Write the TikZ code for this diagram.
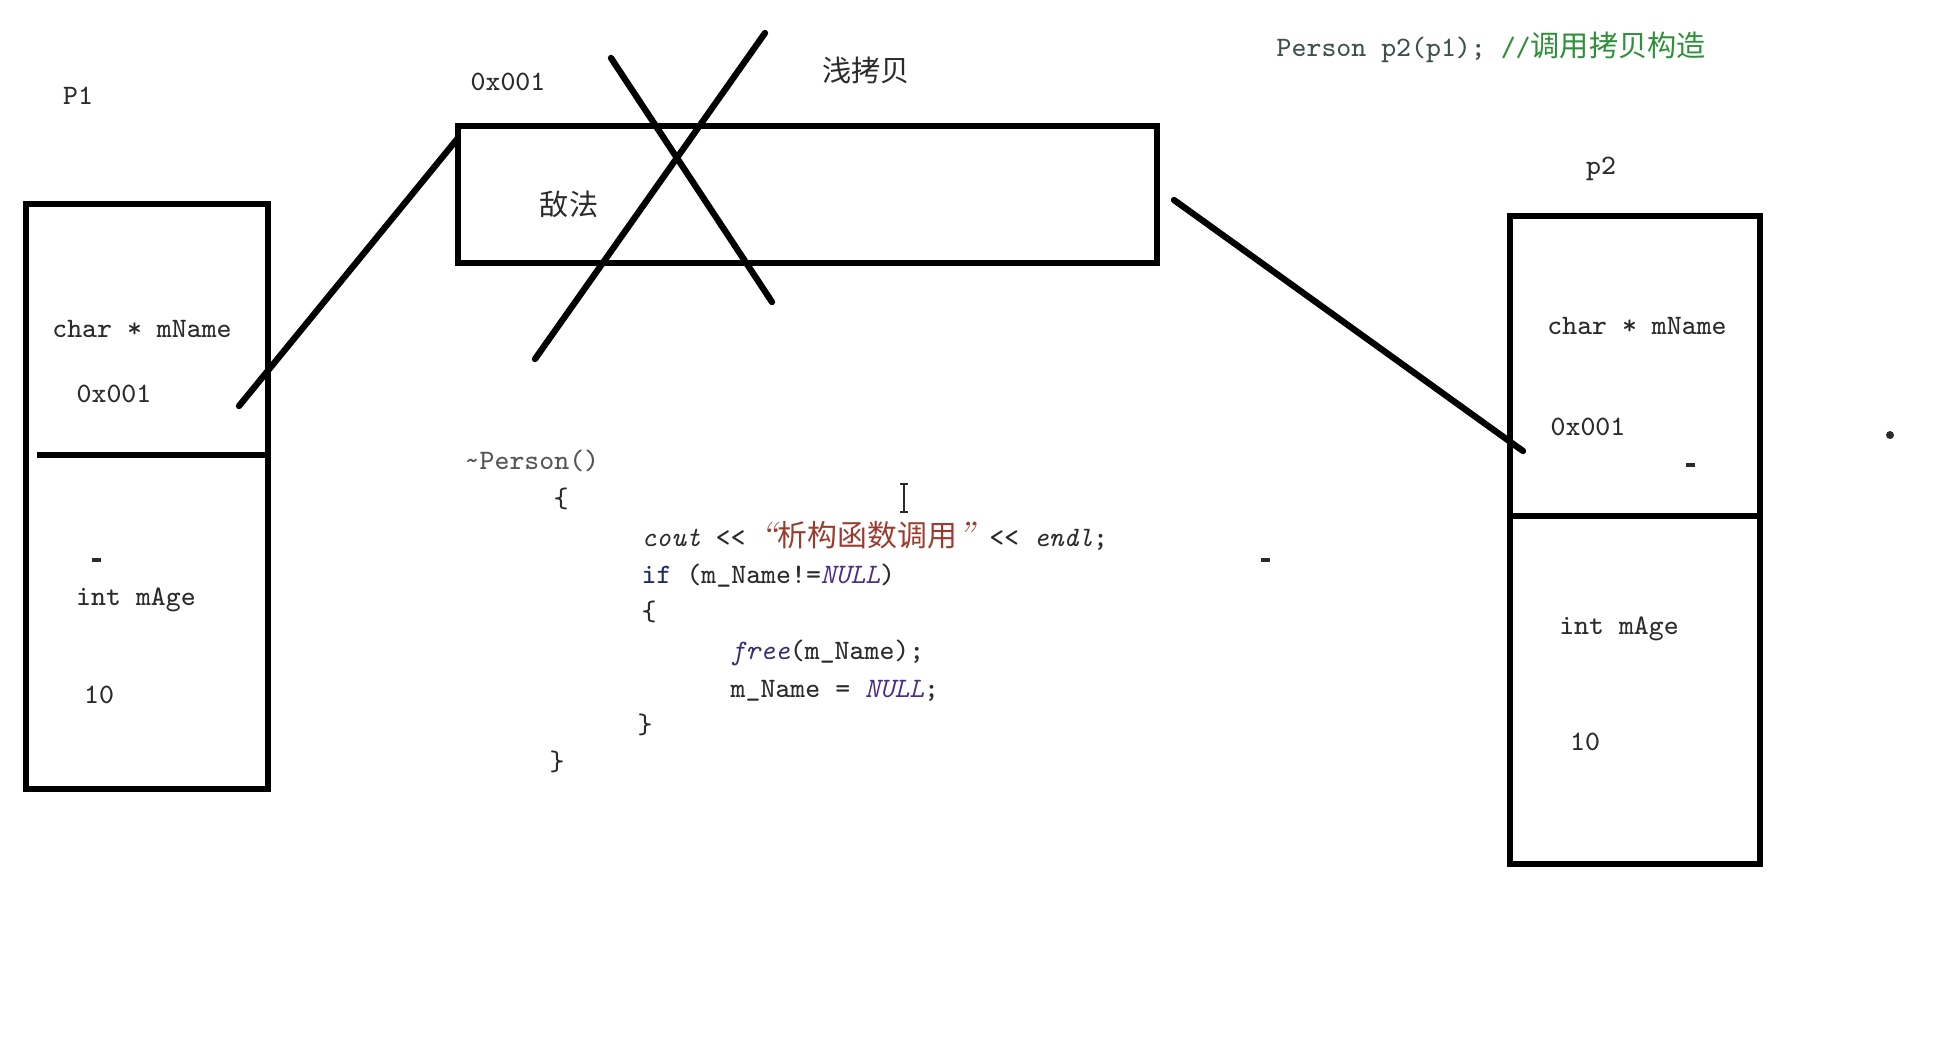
\documentclass[tikz,border=0pt]{standalone}
\usepackage{fontspec}
\newfontfamily\cjk{Noto Sans CJK SC}
\definecolor{ink}{HTML}{2B2B2B}
\definecolor{cstr}{HTML}{9A3B2E}
\definecolor{cnull}{HTML}{4B2D8A}
\definecolor{cfree}{HTML}{3B2D6E}
\definecolor{cif}{HTML}{1F2A5E}
\definecolor{cgreen}{HTML}{2F8F3A}
\definecolor{cslate}{HTML}{3F5050}
\definecolor{cgray}{HTML}{555555}
\begin{document}
\begin{tikzpicture}[x=0.01cm,y=-0.01cm,
  thick line/.style={line width=1.8pt, line cap=round},
  memcell/.style={draw, line width=1.8pt, inner sep=0pt},
  lbl/.style={inner sep=0pt, text=ink, font=\ttfamily\fontsize{8}{9}\selectfont},
  cjklbl/.style={inner sep=0pt, text=ink, font=\cjk\fontsize{8.3}{9}\selectfont},
  codeline/.style={anchor=base west, inner sep=0pt, text=ink, font=\ttfamily\fontsize{8}{9}\selectfont},
  speck/.style={fill=ink, draw=none}]
\useasboundingbox (0,0) rectangle (1939,1041);

% memory cells
\node[memcell, minimum width=2.42cm, minimum height=5.85cm] (p1box) at (147,496.5) {};
\node[memcell, minimum width=6.99cm, minimum height=1.37cm] (heap) at (807.5,194.5) {};
\node[memcell, minimum width=2.50cm, minimum height=6.48cm] (p2box) at (1635,540) {};
\coordinate (p1divL) at (37,455);
\coordinate (p1divR) at (268,455);
\coordinate (p2divL) at (1510,516);
\coordinate (p2divR) at (1757,516);
\draw[line width=1.8pt] (p1divL) -- (p1divR);
\draw[line width=1.8pt] (p2divL) -- (p2divR);

% labels
\node[lbl] (lP1) at (78,96) {P1};
\node[lbl] (lhaddr) at (508,82) {0x001};
\node[cjklbl] (lshallow) at (866,70) {浅拷贝};
\node[cjklbl] (lheap) at (569,204) {敌法};
\node[lbl] (p1name) at (142,329) {char * mName};
\node[lbl] (p1addr) at (114,394) {0x001};
\node[lbl] (p1age) at (136,600) {int mAge};
\node[lbl] (p1val) at (99,695) {10};
\node[lbl] (lp2) at (1601,169) {p2};
\node[lbl] (p2name) at (1637,326) {char * mName};
\node[lbl] (p2addr) at (1588,427) {0x001};
\node[lbl] (p2age) at (1619,629) {int mAge};
\node[lbl] (p2val) at (1585,742) {10};

% pointer connectors
\coordinate (p1ptr) at (239,406);
\coordinate (heapL) at (458,138);
\coordinate (heapR) at (1174,200);
\coordinate (p2ptr) at (1523,451);
\draw[thick line] (p1ptr) -- (heapL);
\draw[thick line] (heapR) -- (p2ptr);

% cross
\coordinate (xa1) at (611,58);
\coordinate (xa2) at (772,302);
\coordinate (xb1) at (765,33);
\coordinate (xb2) at (535,359);
\draw[thick line] (xa1) -- (xa2);
\draw[thick line] (xb1) -- (xb2);

% top-right statement
\node[codeline] (stmt) at (1276,56) {\textcolor{cslate}{Person p2(p1); }\textcolor{cgreen}{//{\cjk\fontsize{8.3}{9}\selectfont 调用拷贝构造}}};

% destructor code
\node[codeline, text=cgray] (c0) at (464,469) {\textasciitilde Person()};
\node[codeline] (c1) at (553,507) {\{};
\node[codeline] (c2) at (641,546) {\textit{cout} << \textcolor{cstr}{{\rmfamily\itshape\fontsize{10}{10}\selectfont “}{\cjk\fontsize{8.5}{9}\selectfont 析构函数调用}{\rmfamily\itshape\fontsize{10}{10}\selectfont ”}} << \textit{endl};};
\node[codeline] (c3) at (641,583) {\textcolor{cif}{if} (m\_Name!=\textcolor{cnull}{\textit{NULL}})};
\node[codeline] (c4) at (641,620) {\{};
\node[codeline] (c5) at (730,659) {\textcolor{cfree}{\textit{free}}(m\_Name);};
\node[codeline] (c6) at (730,697) {m\_Name = \textcolor{cnull}{\textit{NULL}};};
\node[codeline] (c7) at (637,733) {\}};
\node[codeline] (c8) at (549,770) {\}};

% text cursor
\coordinate (curT) at (904,484);
\coordinate (curB) at (904,512);
\draw[ink, line width=0.8pt] (curT) -- (curB);
\draw[ink, line width=0.8pt] ([xshift=-0.04cm]curT) -- ([xshift=0.04cm]curT);
\draw[ink, line width=0.8pt] ([xshift=-0.04cm]curB) -- ([xshift=0.04cm]curB);

% specks
\fill[speck] (1890,435) circle (4);
\fill[speck] (92,558) rectangle (101,562);
\fill[speck] (1261,558) rectangle (1270,562);
\fill[speck] (1686,463) rectangle (1695,467);
\end{tikzpicture}
\end{document}
